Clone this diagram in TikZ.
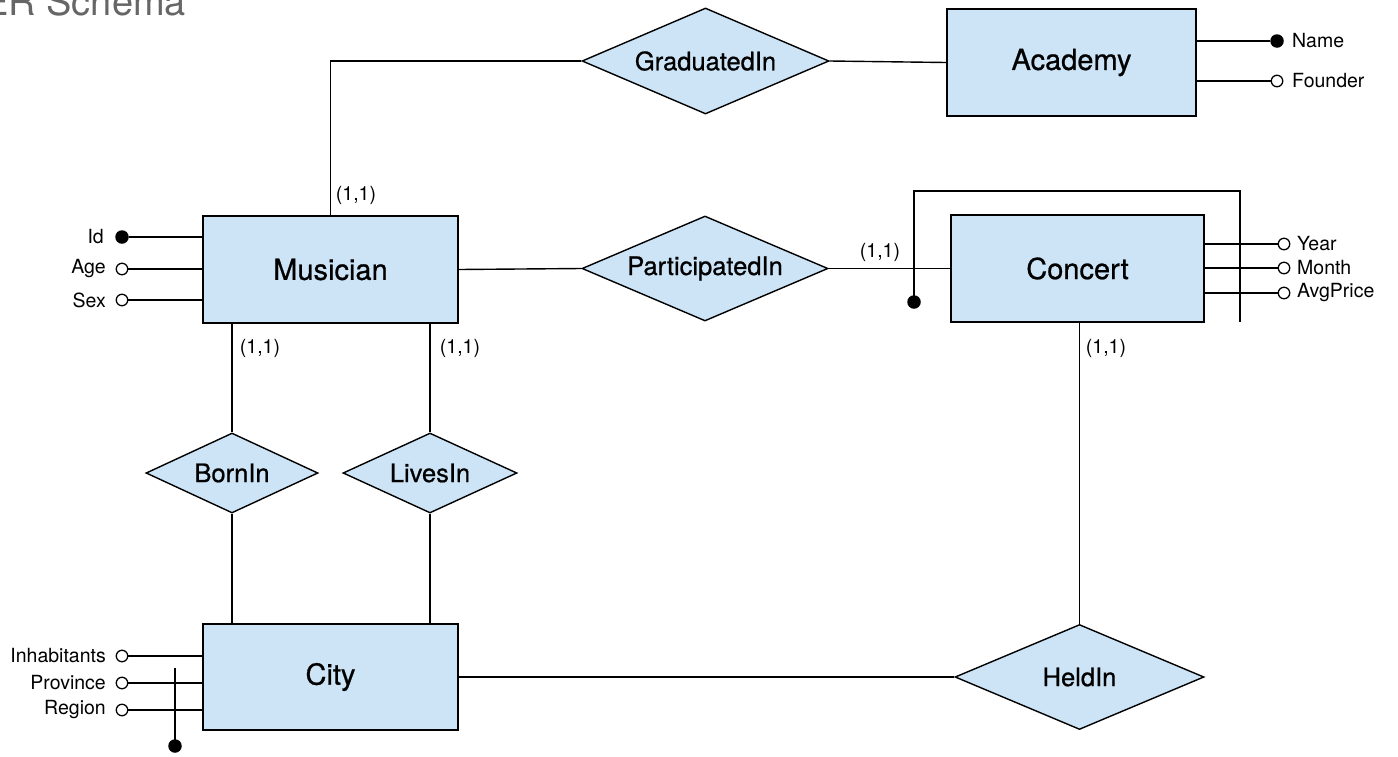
\documentclass[tikz,border=0pt]{standalone}
\usepackage{fontspec}
\setmainfont{TeX Gyre Heros}
\newfontface\medfont{TeX Gyre Heros}[FakeBold=0.7]
\usetikzlibrary{shapes.geometric,calc}
\definecolor{erfill}{HTML}{CCE4F6}
\definecolor{titlegray}{HTML}{666666}
\tikzset{
  conn/.style={line width=1.4pt},
  entity/.style={rectangle, draw, line width=1.4pt, fill=erfill, inner sep=0pt,
    font=\medfont\fontsize{29}{32}\selectfont},
  relation/.style={diamond, draw, line width=1.4pt, fill=erfill, inner sep=0pt, aspect=2.3,
    font=\medfont\fontsize{25.5}{30}\selectfont},
  attropen/.style={circle, draw, line width=1.3pt, fill=white, inner sep=0pt, minimum size=11.5pt},
  attrfill/.style={circle, fill=black, inner sep=0pt, minimum size=13.5pt},
  lbl/.style={font=\fontsize{19.5}{23}\selectfont, inner sep=0pt},
  card/.style={font=\fontsize{19.5}{23}\selectfont, inner sep=0pt},
}
\begin{document}
\begin{tikzpicture}[x=1pt,y=-1pt]
\useasboundingbox (0,0) rectangle (1398,756);
\node[anchor=base west, inner sep=0pt, text=titlegray, font=\fontsize{38}{40}\selectfont] (title) at (-17,15) {ER Schema};

% entities
\node[entity, minimum width=249pt, minimum height=107pt] (academy) at (1071.5,62.5) {Academy};
\node[entity, minimum width=255pt, minimum height=107pt] (musician) at (330.5,269.5) {Musician};
\node[entity, minimum width=253pt, minimum height=107pt] (concert) at (1077.5,268.5) {Concert};
\node[entity, minimum width=255pt, minimum height=106pt] (city) at (330.5,677) {City};

% relationships
\node[relation, minimum width=247pt, minimum height=106pt] (graduated) at (705.5,61) {GraduatedIn};
\node[relation, minimum width=246pt, minimum height=105pt] (participated) at (705,268.5) {ParticipatedIn};
\node[relation, minimum width=172pt, minimum height=80pt] (bornin) at (232,473) {BornIn};
\node[relation, minimum width=174pt, minimum height=80pt] (livesin) at (430,473) {LivesIn};
\node[relation, minimum width=249pt, minimum height=105pt] (heldin) at (1079.5,677) {HeldIn};

% connectors
\draw[conn] (musician.north) |- (graduated.west);
\draw[conn] (graduated.east) -- (academy.west);
\draw[conn] (musician.east) -- (participated.west);
\draw[conn] (participated.east) -- (concert.west);
\draw[conn] (bornin.north) -- (bornin.north |- musician.south);
\draw[conn] (bornin.south) -- (bornin.south |- city.north);
\draw[conn] (livesin.north) -- (livesin.north |- musician.south);
\draw[conn] (livesin.south) -- (livesin.south |- city.north);
\draw[conn] (heldin.north) -- (heldin.north |- concert.south);
\draw[conn] (city.east) -- (heldin.west);

% cardinalities
\node[card] (c1) at (356,195) {(1,1)};
\node[card] (c2) at (260,348) {(1,1)};
\node[card] (c3) at (460,348) {(1,1)};
\node[card] (c4) at (880,252) {(1,1)};
\node[card] (c5) at (1106,348) {(1,1)};

% Academy attributes
\node[attrfill] (aname) at (1277,41) {};
\node[attropen] (afounder) at (1277,81) {};
\node[lbl, anchor=west] (anamel) at (1292,41) {Name};
\node[lbl, anchor=west] (afounderl) at (1292,81) {Founder};
\draw[conn] (aname) -- (aname -| academy.east);
\draw[conn] (afounder) -- (afounder -| academy.east);

% Musician attributes
\node[attrfill] (mid) at (122,237) {};
\node[attropen] (mage) at (122,269) {};
\node[attropen] (msex) at (122,300) {};
\node[lbl, anchor=east] (midl) at (104,237) {Id};
\node[lbl, anchor=east] (magel) at (106,269) {Age};
\node[lbl, anchor=east] (msexl) at (106,300) {Sex};
\draw[conn] (mid) -- (mid -| musician.west);
\draw[conn] (mage) -- (mage -| musician.west);
\draw[conn] (msex) -- (msex -| musician.west);

% Concert attributes
\node[attropen] (cyear) at (1284,244) {};
\node[attropen] (cmonth) at (1284,268) {};
\node[attropen] (cprice) at (1284,293) {};
\node[lbl, anchor=west] (cyearl) at (1297,244) {Year};
\node[lbl, anchor=west] (cmonthl) at (1297,268) {Month};
\node[lbl, anchor=west] (cpricel) at (1297,293) {AvgPrice};
\draw[conn] (cyear) -- (cyear -| concert.east);
\draw[conn] (cmonth) -- (cmonth -| concert.east);
\draw[conn] (cprice) -- (cprice -| concert.east);

% Concert external identifier
\node[attrfill] (cid) at (914,302) {};
\coordinate (cidtl) at (914,191);
\coordinate (cidtr) at (1240,191);
\coordinate (cidbr) at (1240,322);
\draw[conn] (cid.center) -- (cidtl) -- (cidtr) -- (cidbr);

% City attributes
\node[attropen] (cinh) at (122,656) {};
\node[attropen] (cprov) at (122,683) {};
\node[attropen] (creg) at (122,710) {};
\node[lbl, anchor=east] (cinhl) at (106,656) {Inhabitants};
\node[lbl, anchor=east] (cprovl) at (106,683) {Province};
\node[lbl, anchor=east] (cregl) at (106,710) {Region};
\draw[conn] (cinh) -- (cinh -| city.west);
\draw[conn] (cprov) -- (cprov -| city.west);
\draw[conn] (creg) -- (creg -| city.west);

% City identifier
\node[attrfill] (cityid) at (175,746) {};
\coordinate (cityidtop) at (175,668);
\draw[conn] (cityid.center) -- (cityidtop);
\end{tikzpicture}
\end{document}
